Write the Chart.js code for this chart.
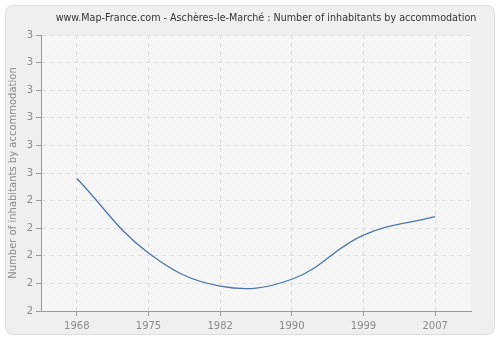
<!DOCTYPE html>
<html>
<head>
<meta charset="utf-8">
<script src="https://cdn.jsdelivr.net/npm/chart.js@4/dist/chart.umd.min.js"></script>
<style>
html,body{margin:0;padding:0;background:#fff;}
#wrap{position:relative;width:500px;height:340px;}
canvas{display:block;}
</style>
</head>
<body>
<div id="wrap"><canvas id="c" width="500" height="340"></canvas></div>
<script>
const years = ["1968", "1975", "1982", "1990", "1999", "2007"];
const inhabitantsPerAccommodation = [2.48, 2.21, 2.09, 2.115, 2.275, 2.342];
const yTicks = [2.0, 2.1, 2.2, 2.3, 2.4, 2.5, 2.6, 2.7, 2.8, 2.9, 3.0];
const chartTitle = "www.Map-France.com - Aschères-le-Marché : Number of inhabitants by accommodation";
const yAxisTitle = "Number of inhabitants by accommodation";

const bgPlugin = {
  id: 'bg',
  beforeDraw(chart) {
    const ctx = chart.ctx;
    ctx.save();
    ctx.fillStyle = '#ffffff';
    ctx.fillRect(0, 0, 500, 340);
    const x = 5.5, y = 5.5, w = 489, h = 329, r = 8;
    ctx.beginPath();
    ctx.moveTo(x + r, y);
    ctx.lineTo(x + w - r, y);
    ctx.quadraticCurveTo(x + w, y, x + w, y + r);
    ctx.lineTo(x + w, y + h - r);
    ctx.quadraticCurveTo(x + w, y + h, x + w - r, y + h);
    ctx.lineTo(x + r, y + h);
    ctx.quadraticCurveTo(x, y + h, x, y + h - r);
    ctx.lineTo(x, y + r);
    ctx.quadraticCurveTo(x, y, x + r, y);
    ctx.closePath();
    ctx.fillStyle = '#efefef';
    ctx.fill();
    ctx.strokeStyle = '#dddddd';
    ctx.lineWidth = 1;
    ctx.stroke();
    const a = chart.chartArea;
    ctx.fillStyle = '#f8f8f8';
    ctx.fillRect(a.left, a.top, a.right - a.left, a.bottom - a.top);
    ctx.beginPath();
    ctx.rect(a.left, a.top, a.right - a.left, a.bottom - a.top);
    ctx.clip();
    ctx.strokeStyle = 'rgba(0,0,0,0.035)';
    ctx.lineWidth = 1;
    ctx.beginPath();
    for (let s = a.left - (a.bottom - a.top); s < a.right; s += 4) {
      ctx.moveTo(s, a.bottom);
      ctx.lineTo(s + (a.bottom - a.top), a.top);
    }
    ctx.stroke();
    ctx.restore();
    // title
    ctx.save();
    ctx.fillStyle = '#333333';
    ctx.font = '9.6px "DejaVu Sans"';
    ctx.textAlign = 'center';
    ctx.textBaseline = 'middle';
    ctx.fillText(chartTitle, 266, 18);
    ctx.restore();
  }
};

new Chart(document.getElementById('c'), {
  type: 'line',
  data: {
    labels: years,
    datasets: [{
      data: inhabitantsPerAccommodation,
      borderColor: '#4a77aa',
      borderWidth: 1.3,
      pointRadius: 0,
      tension: 0.4,
      fill: false
    }]
  },
  plugins: [bgPlugin],
  options: {
    responsive: false,
    animation: false,
    devicePixelRatio: 1,
    layout: { padding: { left: 0, right: 29, top: 35, bottom: 4 } },
    plugins: {
      legend: { display: false },
      tooltip: { enabled: false },
      title: { display: false }
    },
    scales: {
      x: {
        offset: true,
        grid: {
          color: '#dddddd',
          tickColor: '#999999',
          tickLength: 5,
          drawOnChartArea: true
        },
        border: { color: '#999999', width: 1, dash: [4, 4] },
        ticks: {
          color: '#8a8a8a',
          font: { family: 'DejaVu Sans', size: 10 },
          padding: 4,
          maxRotation: 0
        }
      },
      y: {
        min: 2,
        max: 3,
        afterBuildTicks(scale) { scale.ticks = yTicks.map(v => ({ value: v })); },
        afterFit(scale) { scale.width = 41; },
        grid: {
          color: '#dddddd',
          tickColor: '#999999',
          tickLength: 5
        },
        border: { color: '#999999', width: 1, dash: [4, 4] },
        ticks: {
          color: '#8a8a8a',
          font: { family: 'DejaVu Sans', size: 10 },
          padding: 3,
          callback: v => String(Math.round(v))
        },
        title: {
          display: true,
          text: yAxisTitle,
          color: '#8a8a8a',
          font: { family: 'DejaVu Sans', size: 10 },
          padding: { top: 7, bottom: 0 }
        }
      }
    }
  }
});
</script>
</body>
</html>
